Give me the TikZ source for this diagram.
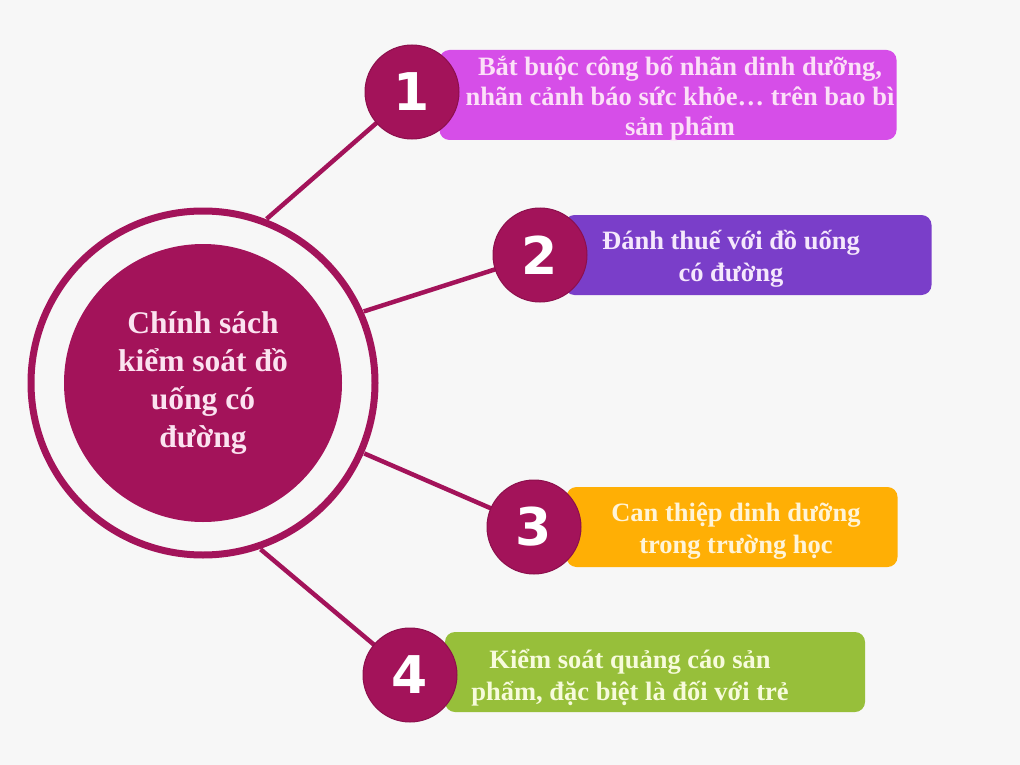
\documentclass[tikz,border=0pt]{standalone}
\usepackage{fontspec}
\usetikzlibrary{calc}
\setmainfont{Liberation Serif}
\newfontfamily\numfont{DejaVu Sans}
\definecolor{bg}{HTML}{F7F7F7}
\definecolor{maroon}{HTML}{A3135A}
\definecolor{maroondk}{HTML}{8C0F4C}
\definecolor{ctext}{HTML}{FBE3F0}
\definecolor{c1}{HTML}{D64EE8}
\definecolor{c2}{HTML}{7A3EC9}
\definecolor{c3}{HTML}{FFAF05}
\definecolor{c4}{HTML}{97BF3A}
\definecolor{t1}{HTML}{FCE0F8}
\definecolor{t2}{HTML}{F5E8FC}
\definecolor{t3}{HTML}{FFF4D8}
\definecolor{t4}{HTML}{F7FBDC}
\begin{document}
\begin{tikzpicture}[x=1pt,y=-1pt,
  boxstyle/.style={rectangle,rounded corners=10pt,inner sep=0pt},
  btext/.style={align=center,font=\fontsize{26.5}{32}\selectfont\bfseries},
  numcircle/.style={circle,fill=maroon,draw=maroondk,line width=1pt,minimum size=94pt,inner sep=0pt,text=white,font=\fontsize{52}{52}\selectfont\numfont\bfseries},
  link/.style={draw=maroon,line width=4.5pt}]
\useasboundingbox (0,0) rectangle (1020,765);
\fill[bg] (0,0) rectangle (1020,765);
% boxes
\node[boxstyle,fill=c1,minimum width=457pt,minimum height=90pt] (b1) at (668,95) {};
\node[boxstyle,fill=c2,minimum width=367pt,minimum height=80pt] (b2) at (748,255) {};
\node[boxstyle,fill=c3,minimum width=331pt,minimum height=80pt] (b3) at (732,527) {};
\node[boxstyle,fill=c4,minimum width=420pt,minimum height=80pt] (b4) at (655,672) {};
% main circle
\node[circle,draw=maroon,line width=7pt,minimum size=344pt,inner sep=0pt] (ring) at (203,383) {};
\node[circle,fill=maroon,minimum size=278pt,inner sep=0pt,text=ctext,align=center,
  font=\fontsize{31.5}{38}\selectfont\bfseries] (core) at (203,383)
  {Chính sách\\kiểm soát đồ\\uống có\\đường};
% ring anchors for connectors
\coordinate (r1) at ($(ring.center)+(-68.8:176)$);
\coordinate (r2) at ($(ring.center)+(-24:176)$);
\coordinate (r3) at ($(ring.center)+(23.6:176)$);
\coordinate (r4) at ($(ring.center)+(70.9:176)$);
% number circles positions
\coordinate (p1) at (412,92);
\coordinate (p2) at (540,255);
\coordinate (p3) at (534,527);
\coordinate (p4) at (410,675);
\draw[link] (r1) -- (p1);
\draw[link] (r2) -- (p2);
\draw[link] (r3) -- (p3);
\draw[link] (r4) -- (p4);
\node[numcircle] (n1) at (p1) {1};
\node[numcircle] (n2) at (p2) {2};
\node[numcircle] (n3) at (p3) {3};
\node[numcircle] (n4) at (p4) {4};
% texts
\node[btext,text=t1,font=\fontsize{26.5}{30}\selectfont\bfseries] (tx1) at (680,99) {Bắt buộc công bố nhãn dinh dưỡng,\\nhãn cảnh báo sức khỏe… trên bao bì\\sản phẩm};
\node[btext,text=t2] (tx2) at (731,259) {Đánh thuế với đồ uống\\có đường};
\node[btext,text=t3] (tx3) at (736,531) {Can thiệp dinh dưỡng\\trong trường học};
\node[btext,text=t4] (tx4) at (630,678) {Kiểm soát quảng cáo sản\\phẩm, đặc biệt là đối với trẻ};
\end{tikzpicture}
\end{document}
